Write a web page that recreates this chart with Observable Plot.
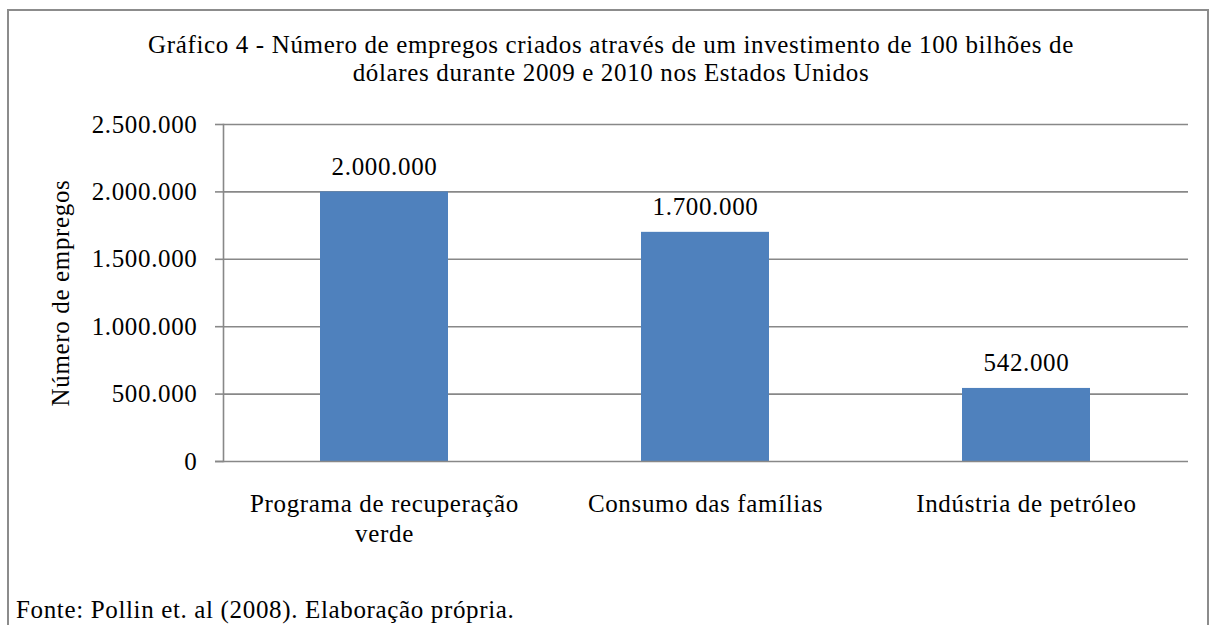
<!DOCTYPE html>
<html>
<head>
<meta charset="utf-8">
<script src="https://cdn.jsdelivr.net/npm/d3@7"></script>
<script src="https://cdn.jsdelivr.net/npm/@observablehq/plot@0.6"></script>
<style>
  html, body { margin: 0; padding: 0; background: #fff; }
  body { width: 1217px; height: 625px; position: relative; overflow: hidden; font-family: "Liberation Serif", "Times New Roman", serif; letter-spacing: 0.65px; }
  #frame { position: absolute; left: 7px; top: 9px; width: 1202px; height: 700px; border: 2px solid #8c8c8c; box-sizing: border-box; }
  #title { position: absolute; left: 0; width: 1222px; top: 31px; text-align: center; font-size: 25px; line-height: 28px; color: #000; }
  #caption { position: absolute; left: 16px; top: 596px; font-size: 25px; color: #000; white-space: nowrap; }
  #chart { position: absolute; left: 0; top: 0; }
  #chart svg text { font-family: "Liberation Serif", "Times New Roman", serif; letter-spacing: 0.65px; }
</style>
</head>
<body>
<div id="frame"></div>
<div id="chart"></div>
<div id="title">Gráfico 4 - Número de empregos criados através de um investimento de 100 bilhões de<br>dólares durante 2009 e 2010 nos Estados Unidos</div>
<div id="caption">Fonte: Pollin et. al (2008). Elaboração própria.</div>
<script>
const categories = ["Programa de recuperação verde", "Consumo das famílias", "Indústria de petróleo"];
const values = [2000000, 1700000, 542000];
const yTicks = [0, 500000, 1000000, 1500000, 2000000, 2500000];
const tickLabels = {
  "Programa de recuperação verde": "Programa de recuperação\nverde",
  "Consumo das famílias": "Consumo das famílias",
  "Indústria de petróleo": "Indústria de petróleo"
};

const data = categories.map((c, i) => ({category: c, value: values[i]}));
const fmt = d3.formatLocale({decimal: ",", thousands: ".", grouping: [3], currency: ["R$", ""]}).format(",d");

const grid = "#888888";
const plot = Plot.plot({
  width: 1217,
  height: 625,
  marginLeft: 223,
  marginRight: 29,
  marginTop: 124,
  marginBottom: 164,
  style: {fontFamily: "Liberation Serif, Times New Roman, serif", fontSize: "25px", color: "#000", background: "transparent"},
  x: {domain: categories, paddingInner: 0.6, paddingOuter: 0.3, label: null},
  y: {domain: [0, 2500000], label: null},
  marks: [
    Plot.gridY(yTicks.filter(d => d > 0), {stroke: grid, strokeOpacity: 1, strokeWidth: 1.6}),
    Plot.barY(data, {x: "category", y: "value", fill: "#4F81BD"}),
    Plot.frame({anchor: "left", stroke: grid, strokeWidth: 1.6}),
    Plot.axisY({ticks: yTicks, tickFormat: fmt, tickSize: 8, tickPadding: 18, stroke: grid, strokeWidth: 1.6, strokeOpacity: 1, fontSize: 25, fill: "#000"}),
    Plot.ruleY([0], {stroke: grid, strokeWidth: 1.6, insetLeft: -8}),
    Plot.axisX({tickSize: 0, tickPadding: 29, tickFormat: d => tickLabels[d], fontSize: 25, lineHeight: 1.2, fill: "#000"}),
    Plot.text(data, {x: "category", y: "value", text: d => fmt(d.value), lineAnchor: "bottom", dy: -17, fontSize: 25, fill: "#000"}),
    Plot.text(["Número de empregos"], {frameAnchor: "left", dx: -163, rotate: -90, textAnchor: "middle", fontSize: 25, fill: "#000"})
  ]
});
document.getElementById("chart").appendChild(plot);
</script>
</body>
</html>
